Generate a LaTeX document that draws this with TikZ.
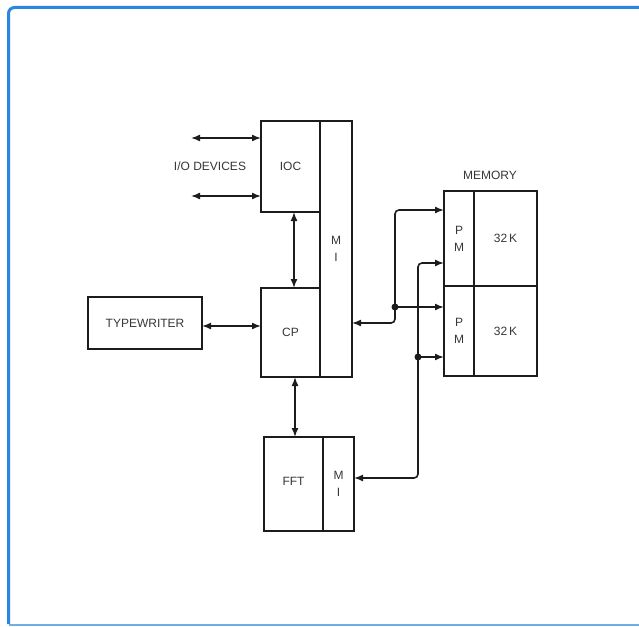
\documentclass[tikz,border=0pt]{standalone}
\usepackage{fontspec}
\setmainfont{Liberation Sans}
\usetikzlibrary{arrows.meta}
\definecolor{ink}{RGB}{28,28,28}
\definecolor{txt}{RGB}{55,55,55}
\definecolor{frameblue}{RGB}{40,135,225}
\definecolor{framelight}{RGB}{110,175,230}
\begin{document}
\begin{tikzpicture}[x=1pt,y=-1pt,
  box/.style={draw=ink, line width=1.7pt, anchor=north west, inner sep=0pt, outer sep=0pt,
    font=\fontsize{12}{17}\selectfont, text=txt, align=center},
  lbl/.style={inner sep=0pt, font=\fontsize{12}{17}\selectfont, text=txt},
  conn/.style={draw=ink, line width=1.6pt, {Latex[length=9pt,width=7pt]}-{Latex[length=9pt,width=7pt]}},
  conntip/.style={draw=ink, line width=1.6pt, -{Latex[length=9pt,width=7pt]}}]
\useasboundingbox (0,0) rectangle (639,626);
\fill[white] (0,0) rectangle (639,626);
% frame
\draw[frameblue, line width=3pt, rounded corners=6pt] (639,7.5) -- (8.5,7.5) -- (8.5,624);
\draw[framelight, line width=2pt] (8.5,624.5) -- (639,624.5);
% boxes
\node[box, minimum width=59pt, minimum height=91pt] (ioc) at (261,121) {IOC};
\node[box, minimum width=59pt, minimum height=89pt] (cp) at (261,288) {CP};
\node[box, minimum width=32pt, minimum height=256pt] (mi) at (320,121) {M\\I};
\node[box, minimum width=114pt, minimum height=52pt] (tw) at (88,297) {TYPEWRITER};
\node[box, minimum width=59pt, minimum height=94pt] (fft) at (264,437) {\raisebox{5pt}{FFT}};
\node[box, minimum width=31pt, minimum height=94pt] (fftmi) at (323,437) {M\\I};
\node[box, minimum width=30pt, minimum height=95pt] (pm1) at (444,191) {P\\M};
\node[box, minimum width=63pt, minimum height=95pt] (k1) at (474,191) {32\,K};
\node[box, minimum width=30pt, minimum height=90pt] (pm2) at (444,286) {P\\M};
\node[box, minimum width=63pt, minimum height=90pt] (k2) at (474,286) {32\,K};
\node[lbl] (memlbl) at (490,175) {MEMORY};
\node[lbl] (iolbl) at (210,166) {I/O DEVICES};
% connectors
\coordinate (io1) at (191,138);
\coordinate (io2) at (191,196);
\draw[conn] (io1) -- (io1 -| ioc.west);
\draw[conn] (io2) -- (io2 -| ioc.west);
\draw[conn] ([xshift=3.5pt]ioc.south) -- ([xshift=3.5pt]cp.north);
\draw[conn] ([yshift=-3pt]tw.east) -- ([yshift=-3pt]tw.east -| cp.west);
\draw[conn] ([xshift=4.5pt]cp.south) -- ([xshift=4.5pt]cp.south |- fft.north);
\coordinate (b1) at (395,323);
\coordinate (b2) at (395,210);
\coordinate (j1) at (395,307);
\coordinate (b3) at (418,263);
\coordinate (b4) at (418,478);
\coordinate (j2) at (418,357);
\draw[conn, rounded corners=4pt] (b1 -| mi.east) -- (b1) -- (b2) -- (b2 -| pm1.west);
\draw[conntip] (j1) -- (j1 -| pm2.west);
\draw[conn, rounded corners=4pt] (b4 -| fftmi.east) -- (b4) -- (b3) -- (b3 -| pm1.west);
\draw[conntip] (j2) -- (j2 -| pm2.west);
\fill[ink] (j1) circle (3.5pt);
\fill[ink] (j2) circle (3.5pt);
\end{tikzpicture}
\end{document}
